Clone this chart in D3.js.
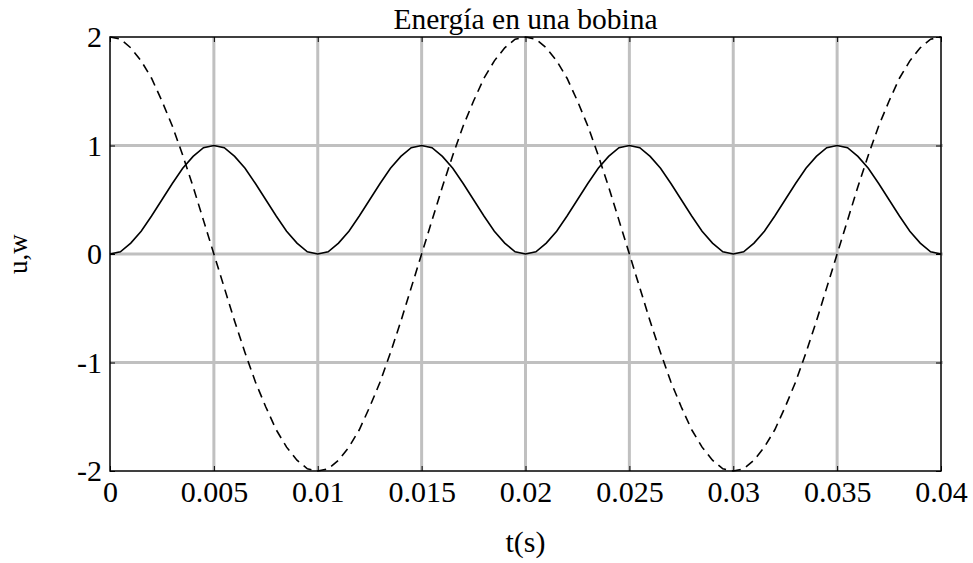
<!DOCTYPE html>
<html lang="es">
<head>
  <meta charset="UTF-8" />
  <title>Energía en una bobina</title>
  <script src="https://d3js.org/d3.v7.min.js"></script>
  <style>
    html, body { margin: 0; padding: 0; background: #fff; }
  </style>
</head>
<body>
<div id="chart"></div>
<script>
const serif = '"Liberation Serif", "Times New Roman", serif';

// muestreo cada 0.5 ms, de 0 a 0.04 s
const tStep = 0.0005;

// tension u (trazo discontinuo)
const uValues = [
  2.00, 1.98, 1.90, 1.78, 1.62, 1.41, 1.18, 0.91, 0.62, 0.31, 0.00, -0.31, -0.62, -0.91, -1.18, -1.41, -1.62, -1.78, -1.90, -1.98, -2.00,
  -1.98, -1.90, -1.78, -1.62, -1.41, -1.18, -0.91, -0.62, -0.31, 0.00, 0.31, 0.62, 0.91, 1.18, 1.41, 1.62, 1.78, 1.90, 1.98, 2.00,
  1.98, 1.90, 1.78, 1.62, 1.41, 1.18, 0.91, 0.62, 0.31, 0.00, -0.31, -0.62, -0.91, -1.18, -1.41, -1.62, -1.78, -1.90, -1.98, -2.00,
  -1.98, -1.90, -1.78, -1.62, -1.41, -1.18, -0.91, -0.62, -0.31, 0.00, 0.31, 0.62, 0.91, 1.18, 1.41, 1.62, 1.78, 1.90, 1.98, 2.00
];

// energia w (trazo continuo)
const wValues = [
  0.00, 0.02, 0.10, 0.21, 0.35, 0.50, 0.65, 0.79, 0.90, 0.98, 1.00, 0.98, 0.90, 0.79, 0.65, 0.50, 0.35, 0.21, 0.10, 0.02, 0.00,
  0.02, 0.10, 0.21, 0.35, 0.50, 0.65, 0.79, 0.90, 0.98, 1.00, 0.98, 0.90, 0.79, 0.65, 0.50, 0.35, 0.21, 0.10, 0.02, 0.00,
  0.02, 0.10, 0.21, 0.35, 0.50, 0.65, 0.79, 0.90, 0.98, 1.00, 0.98, 0.90, 0.79, 0.65, 0.50, 0.35, 0.21, 0.10, 0.02, 0.00,
  0.02, 0.10, 0.21, 0.35, 0.50, 0.65, 0.79, 0.90, 0.98, 1.00, 0.98, 0.90, 0.79, 0.65, 0.50, 0.35, 0.21, 0.10, 0.02, 0.00
];

const xTicks = [0, 0.005, 0.01, 0.015, 0.02, 0.025, 0.03, 0.035, 0.04];
const yTicks = [-2, -1, 0, 1, 2];

const width = 973, height = 563;
const margin = { top: 37, right: 32, bottom: 92, left: 110 };
const innerW = width - margin.left - margin.right;
const innerH = height - margin.top - margin.bottom;

const svg = d3.select("#chart").append("svg")
  .attr("width", width)
  .attr("height", height);

const g = svg.append("g")
  .attr("transform", `translate(${margin.left},${margin.top})`);

const x = d3.scaleLinear().domain([0, 0.04]).range([0, innerW]);
const y = d3.scaleLinear().domain([-2, 2]).range([innerH, 0]);

// rejilla
g.append("g").selectAll("line")
  .data(xTicks.slice(1, -1))
  .join("line")
  .attr("x1", d => x(d)).attr("x2", d => x(d))
  .attr("y1", 0).attr("y2", innerH)
  .attr("stroke", "#c0c0c0").attr("stroke-width", 3);

g.append("g").selectAll("line")
  .data(yTicks.slice(1, -1))
  .join("line")
  .attr("x1", 0).attr("x2", innerW + 2)
  .attr("y1", d => y(d)).attr("y2", d => y(d))
  .attr("stroke", "#c0c0c0").attr("stroke-width", 3);

// ejes (marcas hacia dentro)
const xAxis = g.append("g")
  .attr("transform", `translate(0,${innerH})`)
  .call(d3.axisBottom(x).tickValues(xTicks).tickSizeInner(-5).tickSizeOuter(0).tickPadding(10).tickFormat(d => d));
const yAxis = g.append("g")
  .call(d3.axisLeft(y).tickValues(yTicks).tickSizeInner(-5).tickSizeOuter(0).tickPadding(8).tickFormat(d => d));
g.append("g").call(d3.axisTop(x).tickValues(xTicks).tickSizeInner(-5).tickSizeOuter(0).tickFormat(""));
g.append("g").attr("transform", `translate(${innerW},0)`)
  .call(d3.axisRight(y).tickValues(yTicks).tickSizeInner(-5).tickSizeOuter(0).tickFormat(""));

g.selectAll(".domain").remove();
g.selectAll(".tick line").attr("stroke", "#000");
g.selectAll(".tick text")
  .attr("fill", "#000")
  .style("font-family", serif)
  .style("font-size", "30px");
xAxis.selectAll("text").attr("dy", "0.71em");

// caja
g.append("rect")
  .attr("width", innerW).attr("height", innerH)
  .attr("fill", "none").attr("stroke", "#000").attr("stroke-width", 1.5);

// curvas
const line = d3.line()
  .x((d, i) => x(i * tStep))
  .y(d => y(d));

g.append("path")
  .datum(wValues)
  .attr("d", line)
  .attr("fill", "none")
  .attr("stroke", "#000")
  .attr("stroke-width", 1.6);

g.append("path")
  .datum(uValues)
  .attr("d", line)
  .attr("fill", "none")
  .attr("stroke", "#000")
  .attr("stroke-width", 1.6)
  .attr("stroke-dasharray", "9,6");

// textos
function label(sel, size) {
  return sel.attr("text-anchor", "middle")
    .style("font-family", serif)
    .style("font-size", size)
    .attr("fill", "#000");
}

label(svg.append("text")
  .attr("x", margin.left + innerW / 2)
  .attr("y", 29), "29.5px")
  .text("Energía en una bobina");

label(svg.append("text")
  .attr("x", margin.left + innerW / 2)
  .attr("y", 552), "30px")
  .text("t(s)");

label(svg.append("text")
  .attr("transform", `translate(27,${margin.top + innerH / 2}) rotate(-90)`), "27px")
  .text("u,w");
</script>
</body>
</html>
